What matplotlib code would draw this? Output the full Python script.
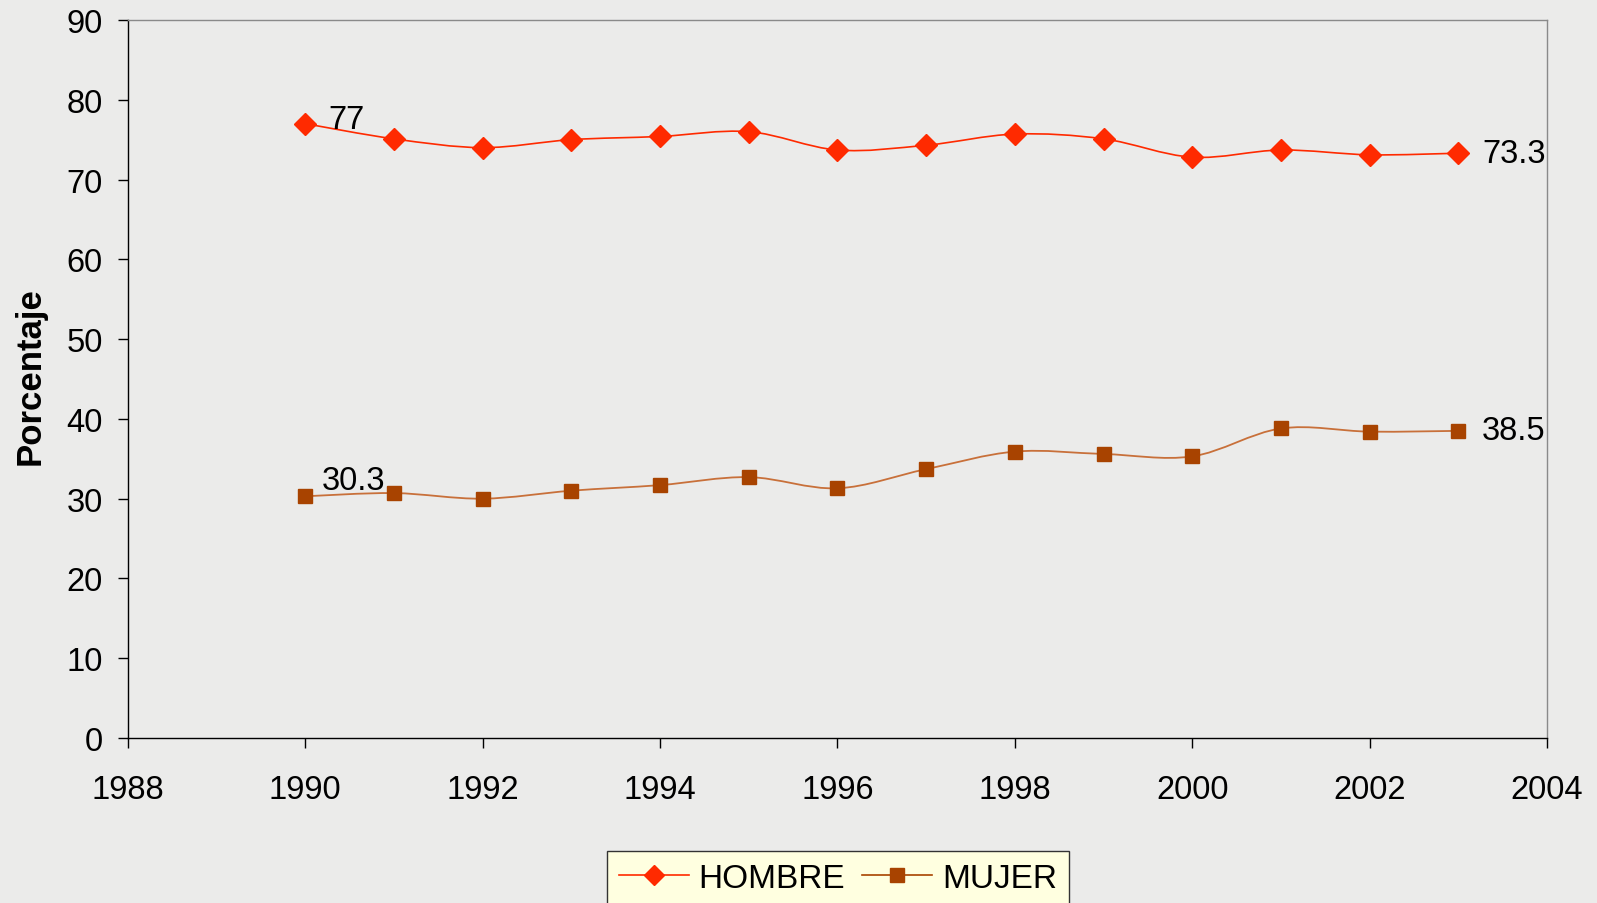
import numpy as np
import matplotlib
matplotlib.use('Agg')
import matplotlib.pyplot as plt
from matplotlib.path import Path
from matplotlib.patches import PathPatch
from matplotlib.lines import Line2D

plt.rcParams['font.family'] = ['Liberation Sans', 'DejaVu Sans']

# data
years = [1990, 1991, 1992, 1993, 1994, 1995, 1996, 1997, 1998, 1999, 2000, 2001, 2002, 2003]
hombre = [77.0, 75.1, 74.0, 75.0, 75.4, 76.0, 73.7, 74.3, 75.7, 75.1, 72.8, 73.7, 73.1, 73.3]
mujer = [30.3, 30.7, 30.0, 31.0, 31.7, 32.7, 31.3, 33.7, 35.9, 35.6, 35.3, 38.8, 38.4, 38.5]
xticks = [1988, 1990, 1992, 1994, 1996, 1998, 2000, 2002, 2004]
yticks = [0, 10, 20, 30, 40, 50, 60, 70, 80, 90]

c_h = '#ff2a00'
c_m = '#a84300'
c_m_line = '#c8703a'


# smoothed line like excel: cubic bezier through every point
def smooth_path(xs, ys):
    xs = np.asarray(xs, float)
    ys = np.asarray(ys, float)
    n = len(xs)
    verts = [(xs[0], ys[0])]
    codes = [Path.MOVETO]
    for i in range(n - 1):
        i0 = max(i - 1, 0)
        i3 = min(i + 2, n - 1)
        c1 = (xs[i] + (xs[i + 1] - xs[i0]) / 6, ys[i] + (ys[i + 1] - ys[i0]) / 6)
        c2 = (xs[i + 1] - (xs[i3] - xs[i]) / 6, ys[i + 1] - (ys[i3] - ys[i]) / 6)
        verts += [c1, c2, (xs[i + 1], ys[i + 1])]
        codes += [Path.CURVE4] * 3
    return Path(verts, codes)


fig = plt.figure(figsize=(15.97, 9.04), dpi=100, facecolor='#ebebea')
ax = fig.add_axes([0.0801, 0.1825, 0.8886, 0.7943])
ax.set_facecolor('none')

ax.add_patch(PathPatch(smooth_path(years, hombre), fill=False, edgecolor=c_h, lw=1.2, zorder=2))
ax.add_patch(PathPatch(smooth_path(years, mujer), fill=False, edgecolor=c_m_line, lw=1.3, zorder=2))
ax.plot(years, hombre, ls='none', marker='D', ms=11, color=c_h, mec=c_h, zorder=3)
ax.plot(years, mujer, ls='none', marker='s', ms=9.5, color=c_m, mec=c_m, zorder=3)

# data labels at first and last point
ax.annotate('77', (years[0], hombre[0]), xytext=(30, 3), textcoords='offset points',
            ha='center', va='center', fontsize=23.5)
ax.annotate('30.3', (years[0], mujer[0]), xytext=(35, 11), textcoords='offset points',
            ha='center', va='center', fontsize=23.5)
ax.annotate('73.3', (years[-1], hombre[-1]), xytext=(40, 0), textcoords='offset points',
            ha='center', va='center', fontsize=23.5)
ax.annotate('38.5', (years[-1], mujer[-1]), xytext=(40, 0), textcoords='offset points',
            ha='center', va='center', fontsize=23.5)

ax.set_xlim(1988, 2004)
ax.set_ylim(0, 90)
ax.set_xticks(xticks)
ax.set_yticks(yticks)
ax.tick_params(axis='both', direction='out', length=7, width=1, labelsize=23.5, colors='black')
ax.tick_params(axis='y', pad=11)
ax.tick_params(axis='x', pad=19)
for s in ['top', 'right']:
    ax.spines[s].set_color('#8a8a8a')
    ax.spines[s].set_linewidth(1)
for s in ['left', 'bottom']:
    ax.spines[s].set_color('black')
    ax.spines[s].set_linewidth(1)

fig.text(30 / 1597, 1 - 376 / 904, 'Porcentaje', rotation=90, ha='center', va='center',
         fontsize=25, fontweight='bold')

handles = [Line2D([], [], color=c_h, marker='D', ms=10.5, lw=1.2, label='HOMBRE'),
           Line2D([], [], color=c_m, marker='s', ms=9.5, lw=1.2, label='MUJER')]
leg = fig.legend(handles=handles, loc='upper left', bbox_to_anchor=(607 / 1597, 1 - 852 / 904),
                 ncol=2, fontsize=24, frameon=True, fancybox=False, handlelength=2.1,
                 handletextpad=0.3, columnspacing=0.5, borderpad=0.35, borderaxespad=0)
leg.get_frame().set_facecolor('#ffffe0')
leg.get_frame().set_edgecolor('#333333')
leg.get_frame().set_linewidth(1)
leg.get_frame().set_alpha(1)

fig.savefig('out.png', dpi=100, facecolor=fig.get_facecolor())
